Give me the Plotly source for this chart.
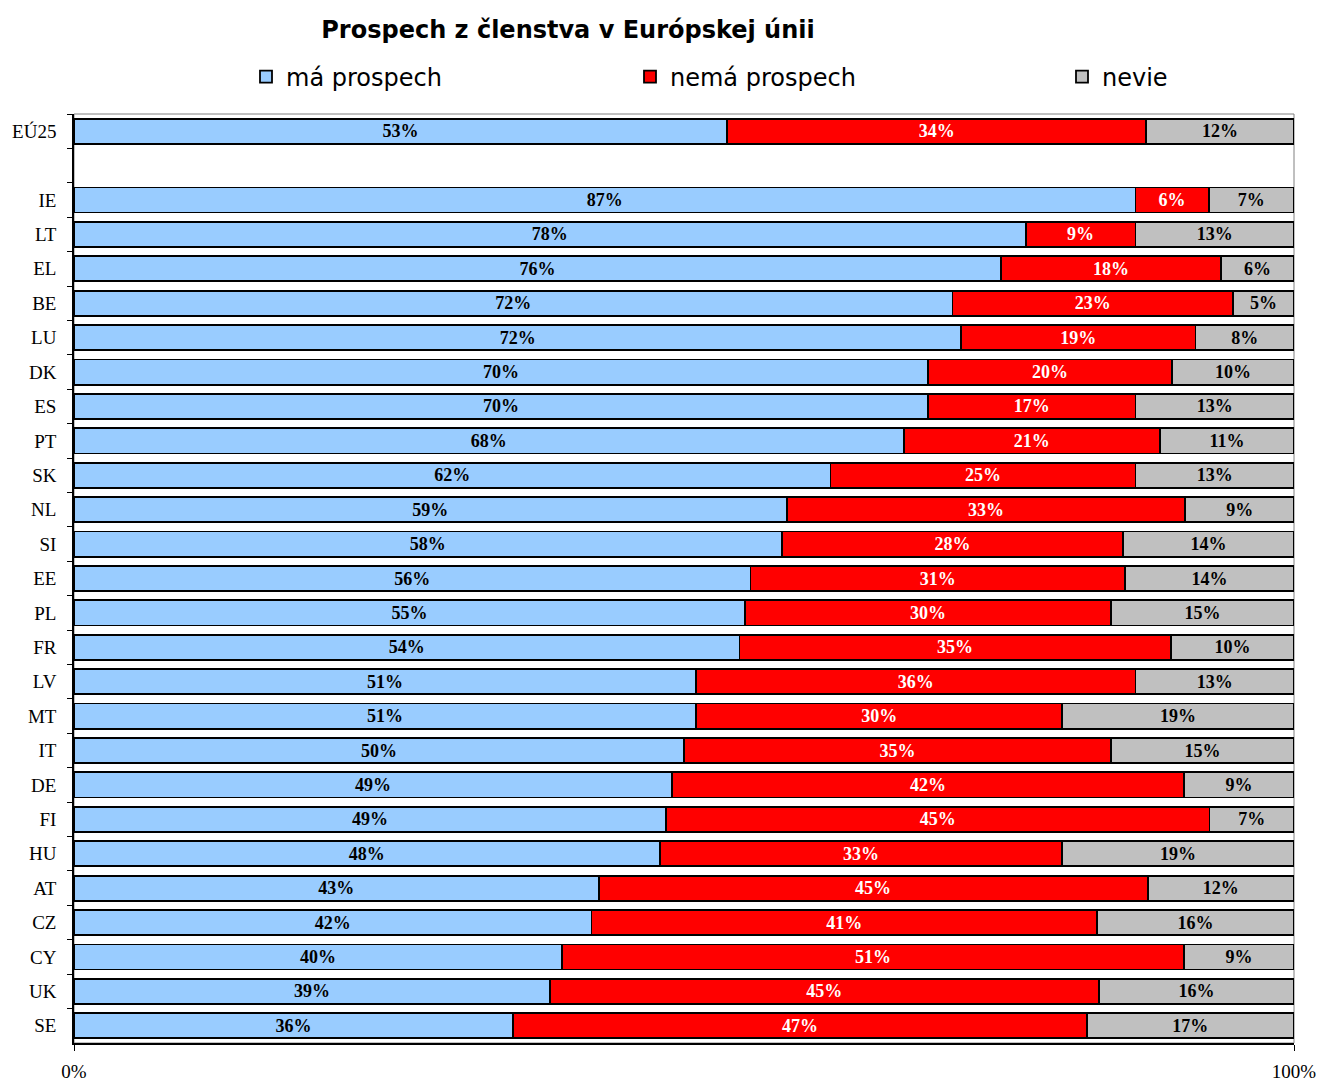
import plotly.graph_objects as go

categories = ["EÚ25", " ", "IE", "LT", "EL", "BE", "LU", "DK", "ES", "PT", "SK", "NL", "SI",
              "EE", "PL", "FR", "LV", "MT", "IT", "DE", "FI", "HU", "AT", "CZ", "CY", "UK", "SE"]
ma_prospech = [53, None, 87, 78, 76, 72, 72, 70, 70, 68, 62, 59, 58, 56, 55, 54, 51, 51, 50, 49, 49, 48, 43, 42, 40, 39, 36]
nema_prospech = [34, None, 6, 9, 18, 23, 19, 20, 17, 21, 25, 33, 28, 31, 30, 35, 36, 30, 35, 42, 45, 33, 45, 41, 51, 45, 47]
nevie = [12, None, 7, 13, 6, 5, 8, 10, 13, 11, 13, 9, 14, 14, 15, 10, 13, 19, 15, 9, 7, 19, 12, 16, 9, 16, 17]
x_tick_vals = [0, 100]
x_tick_text = ["0%", "100%"]

series = [
    ("má prospech", ma_prospech, "#99CCFF", "black", "legend"),
    ("nemá prospech", nema_prospech, "#FF0000", "white", "legend2"),
    ("nevie", nevie, "#C0C0C0", "black", "legend3"),
]

fig = go.Figure()
for name, vals, color, tcolor, leg in series:
    fig.add_trace(go.Bar(
        y=categories, x=vals, name=name, orientation="h",
        marker=dict(color=color, line=dict(color="black", width=1.8)),
        text=["" if v is None else f"{v}%" for v in vals],
        texttemplate="%{text}",
        textposition="inside", insidetextanchor="middle", textangle=0,
        constraintext="none",
        textfont=dict(family="Liberation Serif", size=18, color=tcolor, weight="bold"),
        legend=leg, showlegend=True, hoverinfo="skip",
    ))

W, H = 1324, 1079
leg_common = dict(orientation="h", xref="container", yref="container", yanchor="middle",
                  font=dict(family="DejaVu Sans", size=24, color="black"),
                  bgcolor="rgba(0,0,0,0)", borderwidth=0, visible=True)
fig.update_layout(
    showlegend=True,
    barmode="stack", barnorm="percent", bargap=0.27,
    width=W, height=H,
    margin=dict(l=66, r=38, t=106, b=44, autoexpand=False),
    paper_bgcolor="white", plot_bgcolor="white",
    title=dict(text="<b>Prospech z členstva v Európskej únii</b>", x=560/W, xanchor="center",
               xref="container", y=1 - 22/H, yanchor="middle", yref="container",
               font=dict(family="DejaVu Sans", size=24, color="black")),
    legend=dict(x=238/W, y=1 - 69/H, **leg_common),
    legend2=dict(x=622/W, y=1 - 69/H, **leg_common),
    legend3=dict(x=1054/W, y=1 - 69/H, **leg_common),
    xaxis=dict(range=[0, 100], tickvals=x_tick_vals, ticktext=x_tick_text, showgrid=False,
               zeroline=False, showline=True, linecolor="black", linewidth=1.5,
               ticks="outside", ticklen=6, tickcolor="black", ticklabelstandoff=4,
               automargin=False,
               tickfont=dict(family="Liberation Serif", size=19, color="black")),
    yaxis=dict(autorange="reversed", type="category", showgrid=False, zeroline=False,
               showline=True, linecolor="black", linewidth=1.5,
               ticks="outside", ticklen=5, tickcolor="black", tickson="boundaries",
               ticklabelstandoff=12, automargin=False,
               tickfont=dict(family="Liberation Serif", size=19, color="black")),
    shapes=[dict(type="rect", xref="paper", yref="paper", x0=0, x1=1, y0=0, y1=1,
                 line=dict(color="#808080", width=1), layer="below")],
)

fig.write_html("out.html")
